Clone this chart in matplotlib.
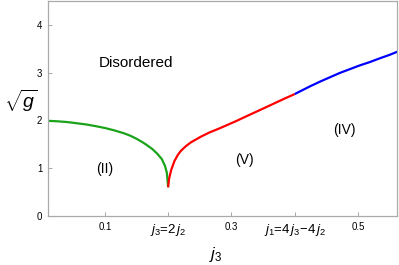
import matplotlib
matplotlib.use("Agg")
import matplotlib.pyplot as plt

plt.rcParams['font.family'] = ['Liberation Sans', 'DejaVu Sans']
plt.rcParams['mathtext.fontset'] = 'custom'
plt.rcParams['mathtext.rm'] = 'Liberation Sans'
plt.rcParams['mathtext.it'] = 'Liberation Sans:italic'

# phase boundary sqrt(g) vs j3
green_x = [0.01, 0.025, 0.04, 0.055, 0.07, 0.085, 0.10, 0.115, 0.13, 0.14, 0.15, 0.158,
           0.165, 0.175, 0.183, 0.19, 0.195, 0.198, 0.2]
green_y = [1.99, 1.98, 1.965, 1.94, 1.915, 1.88, 1.84, 1.79, 1.73, 1.68, 1.615, 1.555,
           1.495, 1.40, 1.30, 1.19, 1.05, 0.90, 0.6]
red_x = [0.2, 0.2015, 0.2048, 0.21, 0.215, 0.22, 0.228, 0.236, 0.252, 0.265, 0.279, 0.292,
         0.305, 0.318, 0.331, 0.345, 0.358, 0.371, 0.384, 0.4]
red_y = [0.6, 0.78, 0.96, 1.15, 1.27, 1.36, 1.46, 1.54, 1.66, 1.745, 1.82, 1.895,
         1.97, 2.05, 2.13, 2.215, 2.295, 2.375, 2.455, 2.55]
blue_x = [0.4, 0.412, 0.424, 0.44, 0.4555, 0.471, 0.487, 0.503, 0.519, 0.535, 0.55, 0.563]
blue_y = [2.55, 2.63, 2.71, 2.81, 2.90, 2.99, 3.07, 3.15, 3.22, 3.30, 3.37, 3.44]

xticks = [0.1, 0.2, 0.3, 0.4, 0.5]
xticklabels = ['0.1', r'$j_3$=2$\,j_2$', '0.3', r'$j_1$=4$\,j_3$$-$4$\,j_2$', '0.5']
yticks = [0, 1, 2, 3, 4]

fig = plt.figure(figsize=(3.99, 2.65), dpi=100)
ax = fig.add_axes([0.12, 0.185, 0.875, 0.812])

ax.plot(green_x, green_y, color='#1aa31a', lw=1.6, solid_capstyle='butt')
ax.plot(red_x, red_y, color='#ff0000', lw=1.6, solid_capstyle='butt')
ax.plot(blue_x, blue_y, color='#0000ff', lw=1.6, solid_capstyle='butt')

ax.set_xlim(0.01, 0.5616)
ax.set_ylim(0, 4.5)
ax.set_xticks(xticks)
ax.set_xticklabels(xticklabels)
ax.set_yticks(yticks)

for lbl in ax.get_xticklabels():
    lbl.set_fontsize(9.5 if '$' in lbl.get_text() else 7)
ax.tick_params(axis='y', labelsize=7)
ax.tick_params(direction='in', length=3, width=0.6, color='#999999', pad=4)

for s in ax.spines.values():
    s.set_color('#aaaaaa')
    s.set_linewidth(0.9)

ax.text(0.15, 3.19, 'Disordered', fontsize=11, ha='center', va='center')
ax.text(0.10, 0.98, '(II)', fontsize=10, ha='center', va='center')
ax.text(0.321, 1.17, '(V)', fontsize=10, ha='center', va='center')
ax.text(0.479, 1.79, '(IV)', fontsize=10, ha='center', va='center')

fig.text(0.052, 0.62, r'$\sqrt{g}$', fontsize=14, ha='center', va='center')
fig.text(0.54, 0.04, r'$j_3$', fontsize=12, ha='center', va='center')

fig.savefig('out.png', dpi=100)
